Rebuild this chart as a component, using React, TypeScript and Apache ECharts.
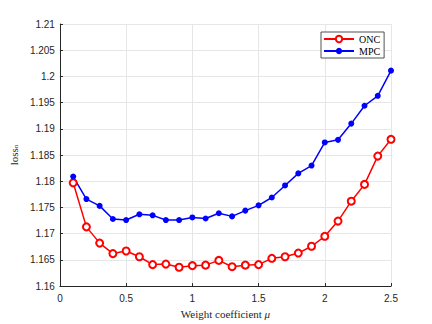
import React, { useEffect, useRef } from "react";
import * as echarts from "echarts";

const xValues = [0.1, 0.2, 0.3, 0.4, 0.5, 0.6, 0.7, 0.8, 0.9, 1.0, 1.1, 1.2, 1.3, 1.4, 1.5, 1.6, 1.7, 1.8, 1.9, 2.0, 2.1, 2.2, 2.3, 2.4, 2.5];
const oncValues = [1.1797, 1.1713, 1.1682, 1.1662, 1.1667, 1.1656, 1.1641, 1.1642, 1.1636, 1.1639, 1.164, 1.1649, 1.1637, 1.164, 1.1641, 1.1653, 1.1656, 1.1663, 1.1676, 1.1695, 1.1724, 1.1762, 1.1794, 1.1848, 1.188];
const mpcValues = [1.1809, 1.1766, 1.1753, 1.1728, 1.1726, 1.1737, 1.1735, 1.1726, 1.1726, 1.1731, 1.1729, 1.1739, 1.1733, 1.1744, 1.1754, 1.1769, 1.1792, 1.1815, 1.183, 1.1874, 1.1879, 1.191, 1.1944, 1.1963, 1.2011];
const seriesNames = ["ONC", "MPC"];

const SANS = "'Liberation Sans', Arial, Helvetica, sans-serif";
const SERIF = "'Liberation Serif', 'Times New Roman', serif";
const AXIS_COLOR = "#262626";
const GRID_COLOR = "#e6e6e6";

export default function App() {
  const ref = useRef<HTMLDivElement>(null);
  useEffect(() => {
    if (!ref.current) return;
    const chart = echarts.init(ref.current, undefined, { renderer: "svg" });
    const fmt = (v: number) => parseFloat(v.toFixed(4)).toString();
    chart.setOption({
      animation: false,
      backgroundColor: "#ffffff",
      grid: { left: 56, right: 41, top: 24, bottom: 35 },
      legend: {
        left: 321,
        top: 32,
        orient: "vertical",
        backgroundColor: "#ffffff",
        borderColor: "#262626",
        borderWidth: 0.8,
        borderRadius: 0,
        padding: [2, 4, 2, 2],
        itemWidth: 30,
        itemHeight: 8,
        itemGap: 2,
        textStyle: { fontFamily: SERIF, fontSize: 10, color: "#000" },
        data: seriesNames,
      },
      xAxis: {
        type: "value",
        min: 0,
        max: 2.5,
        interval: 0.5,
        name: "Weight coefficient {i|μ}",
        nameLocation: "middle",
        nameGap: 17,
        nameTextStyle: {
          fontFamily: SERIF,
          fontSize: 11,
          color: "#262626",
          rich: { i: { fontFamily: SERIF, fontSize: 11, fontStyle: "italic", color: "#262626" } },
        },
        axisLine: { show: true, lineStyle: { color: AXIS_COLOR, width: 1 } },
        axisTick: { show: true, inside: true, length: 3, lineStyle: { color: AXIS_COLOR } },
        axisLabel: { fontFamily: SANS, fontSize: 10, color: AXIS_COLOR, margin: 7, formatter: fmt },
        splitLine: { show: true, lineStyle: { color: GRID_COLOR, width: 1 } },
      },
      yAxis: {
        type: "value",
        min: 1.16,
        max: 1.21,
        interval: 0.005,
        name: "loss{s|n}",
        nameLocation: "middle",
        nameRotate: 90,
        nameGap: 35,
        nameTextStyle: {
          fontFamily: SERIF,
          fontSize: 11,
          color: "#262626",
          rich: { s: { fontFamily: SERIF, fontSize: 7, color: "#262626", padding: [4, 0, 0, 0] } },
        },
        axisLine: { show: true, lineStyle: { color: AXIS_COLOR, width: 1 } },
        axisTick: { show: true, inside: true, length: 3, lineStyle: { color: AXIS_COLOR } },
        axisLabel: { fontFamily: SANS, fontSize: 10, color: AXIS_COLOR, margin: 5, formatter: fmt },
        splitLine: { show: true, lineStyle: { color: GRID_COLOR, width: 1 } },
      },
      series: [
        {
          name: seriesNames[0],
          type: "line",
          data: xValues.map((x, i) => [x, oncValues[i]]),
          symbol: "emptyCircle",
          symbolSize: 7,
          lineStyle: { color: "#ff0000", width: 1.5 },
          itemStyle: { color: "#ff0000", borderColor: "#ff0000", borderWidth: 1.5 },
        },
        {
          name: seriesNames[1],
          type: "line",
          data: xValues.map((x, i) => [x, mpcValues[i]]),
          symbol: "circle",
          symbolSize: 6,
          lineStyle: { color: "#0000ff", width: 1.5 },
          itemStyle: { color: "#0000ff" },
        },
      ],
    });
    return () => chart.dispose();
  }, []);
  return <div ref={ref} style={{ position: "absolute", left: 0, top: 0, width: 432, height: 324 }} />;
}
